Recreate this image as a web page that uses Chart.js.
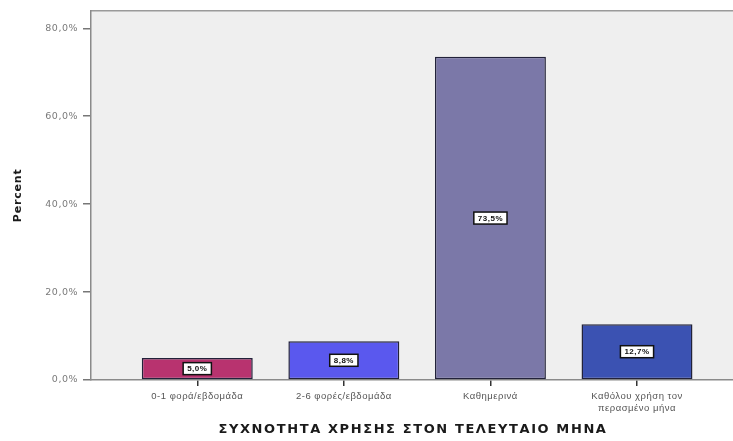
<!DOCTYPE html>
<html>
<head>
<meta charset="utf-8">
<script src="https://cdn.jsdelivr.net/npm/chart.js@4"></script>
<style>
    html, body { margin: 0; padding: 0; background: #ffffff; }
    #wrap { width: 733px; height: 441px; }
</style>
</head>
<body>
<div id="wrap"><canvas id="chartFreq" width="733" height="441"></canvas></div>
<script>
const categories = [
    '0-1 φορά/εβδομάδα',
    '2-6 φορές/εβδομάδα',
    'Καθημερινά',
    'Καθόλου χρήση τον περασμένο μήνα'
];
const tickLabels = [
    '0-1 φορά/εβδομάδα',
    '2-6 φορές/εβδομάδα',
    'Καθημερινά',
    ['Καθόλου χρήση τον', 'περασμένο μήνα']
];
const percentValues = [5.0, 8.8, 73.5, 12.7];
const yTicks = [0, 20, 40, 60, 80];
const barColors = ['#b8336f', '#5a58ee', '#7b78a8', '#3b52b2'];
const xTitle = 'ΣΥΧΝΟΤΗΤΑ ΧΡΗΣΗΣ ΣΤΟΝ ΤΕΛΕΥΤΑΙΟ ΜΗΝΑ';
const yTitle = 'Percent';

const fontFamily = '"Liberation Sans", Arial, sans-serif';
const wideFamily = '"DejaVu Sans", Verdana, sans-serif';

function formatPercent(v) {
    return v.toFixed(1).replace('.', ',') + '%';
}

// Plot background and top frame line, like the SPSS output.
const plotFrame = {
    id: 'plotFrame',
    beforeDraw(chart) {
        const { ctx, chartArea } = chart;
        ctx.save();
        ctx.fillStyle = '#efefef';
        ctx.fillRect(chartArea.left, chartArea.top, chartArea.right - chartArea.left, chartArea.bottom - chartArea.top);
        ctx.strokeStyle = '#9a9a9a';
        ctx.lineWidth = 1.5;
        ctx.beginPath();
        ctx.moveTo(chartArea.left, chartArea.top);
        ctx.lineTo(chartArea.right, chartArea.top);
        ctx.stroke();
        ctx.restore();
        // the source picture has widely spaced text
        ctx.letterSpacing = '0.5px';
    }
};

// Axis titles, drawn with wider letter spacing than Chart.js allows.
const axisTitles = {
    id: 'axisTitles',
    afterDraw(chart) {
        const { ctx, chartArea } = chart;
        ctx.save();
        ctx.fillStyle = '#1a1a1a';
        ctx.textAlign = 'center';
        ctx.textBaseline = 'middle';
        ctx.font = 'bold 13px ' + wideFamily;
        ctx.letterSpacing = '1.6px';
        ctx.fillText(xTitle, (chartArea.left + chartArea.right) / 2 + 1, 430);
        ctx.translate(18, (chartArea.top + chartArea.bottom) / 2);
        ctx.rotate(-Math.PI / 2);
        ctx.font = 'bold 11px ' + wideFamily;
        ctx.letterSpacing = '0.8px';
        ctx.fillText(yTitle, 0, 0);
        ctx.restore();
    }
};

// Boxed value labels in the middle of each bar.
const barLabels = {
    id: 'barLabels',
    afterDatasetsDraw(chart) {
        const { ctx } = chart;
        const meta = chart.getDatasetMeta(0);
        ctx.save();
        ctx.font = 'bold 8px ' + fontFamily;
        ctx.textAlign = 'center';
        ctx.textBaseline = 'middle';
        meta.data.forEach((bar, index) => {
            const text = formatPercent(percentValues[index]);
            const cy = (bar.y + bar.base) / 2;
            const w = ctx.measureText(text).width + 8;
            const h = 12;
            ctx.fillStyle = '#ffffff';
            ctx.fillRect(bar.x - w / 2, cy - h / 2, w, h);
            ctx.strokeStyle = '#111111';
            ctx.lineWidth = 1.5;
            ctx.strokeRect(bar.x - w / 2, cy - h / 2, w, h);
            ctx.fillStyle = '#111111';
            ctx.fillText(text, bar.x, cy + 0.5);
        });
        ctx.restore();
    }
};

new Chart(document.getElementById('chartFreq'), {
    type: 'bar',
    data: {
        datasets: [{
            label: 'Percent',
            data: categories.map((c, i) => ({ x: i, y: percentValues[i] })),
            backgroundColor: barColors,
            borderColor: '#22223a',
            borderWidth: 1.5,
            borderSkipped: false,
            categoryPercentage: 1,
            barPercentage: 0.757
        }]
    },
    options: {
        responsive: false,
        animation: false,
        devicePixelRatio: 1,
        layout: { padding: { top: 6, right: 0, left: 0, bottom: 0 } },
        plugins: {
            legend: { display: false },
            tooltip: { enabled: false }
        },
        scales: {
            x: {
                type: 'linear',
                offset: false,
                min: -0.725,
                max: 3.655,
                afterBuildTicks: scale => {
                    scale.ticks = categories.map((c, i) => ({ value: i }));
                },
                afterFit: scale => { scale.height = 61; },
                grid: {
                    offset: false,
                    drawOnChartArea: false,
                    tickLength: 6,
                    tickColor: '#333333',
                    lineWidth: 1.5
                },
                border: { color: '#8a8a8a', width: 1.5 },
                ticks: {
                    autoSkip: false,
                    maxRotation: 0,
                    padding: 5,
                    color: '#555555',
                    font: { family: fontFamily, size: 9.5 },
                    callback: value => tickLabels[value]
                }
            },
            y: {
                min: 0,
                max: 84,
                afterBuildTicks: scale => {
                    scale.ticks = yTicks.map(v => ({ value: v }));
                },
                afterFit: scale => { scale.width = 91; },
                grid: {
                    drawOnChartArea: false,
                    tickLength: 8,
                    tickColor: '#777777',
                    lineWidth: 1.5
                },
                border: { color: '#8a8a8a', width: 1.5 },
                ticks: {
                    padding: 5,
                    color: '#7a7a7a',
                    font: { family: wideFamily, size: 9.5 },
                    callback: value => formatPercent(value)
                }
            }
        }
    },
    plugins: [plotFrame, barLabels, axisTitles]
});
</script>
</body>
</html>
